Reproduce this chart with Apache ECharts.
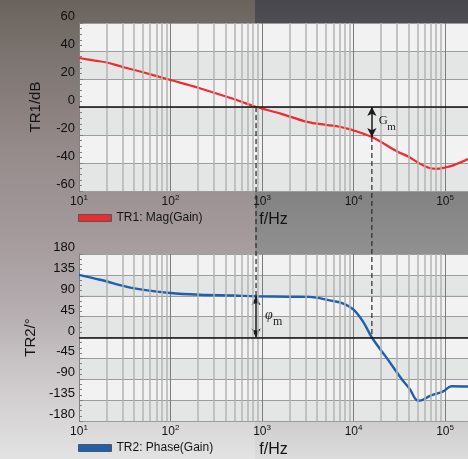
<!DOCTYPE html>
<html><head><meta charset="utf-8">
<script src="https://cdn.jsdelivr.net/npm/echarts@6/dist/echarts.min.js"></script>
<style>
html,body{margin:0;padding:0;width:468px;height:459px;overflow:hidden;}
#bgL{position:absolute;left:0;top:0;width:255px;height:459px;background:linear-gradient(to bottom,#6a635d 0px,#7d7571 60px,#958b8a 150px,#a3999b 230px,#b2aaad 300px,#cdc9cb 380px,#e3e3e3 459px);}
#bgR{position:absolute;left:255px;top:0;width:213px;height:459px;background:linear-gradient(to bottom,#47474d 0px,#58585d 60px,#78787a 150px,#8b8b8b 230px,#9b9b9b 300px,#bebebe 380px,#dcdcdc 459px);}
#chart{position:absolute;left:0;top:0;width:468px;height:459px;}
</style></head>
<body>
<div id="bgL"></div><div id="bgR"></div>
<div id="chart"></div>
<script>
// ---- data ----
const gainFreq = [10, 15, 20, 30, 50, 100, 200, 500, 860, 1000, 1600, 3100, 5200, 7000, 9000, 15850, 30000, 40000, 50000, 65000, 80000, 100000, 125000, 178000];
const gainDb   = [35.0, 33.1, 31.8, 28.6, 24.8, 19.3, 13.8, 5.5, 0, -1.2, -4.7, -10.6, -12.9, -14.1, -15.8, -21.5, -31.8, -35.5, -39.5, -43.2, -44.2, -43.2, -41.5, -37.2];
const phaseFreq = [10, 17, 39, 100, 209, 490, 860, 2000, 3300, 5500, 7500, 10000, 12800, 15850, 23000, 33700, 41400, 49000, 53300, 68500, 95500, 117500, 178000];
const phaseDeg  = [135, 124.5, 106.5, 95.8, 92, 90.5, 89, 88, 87.5, 80, 74, 60, 33, 0, -44, -90, -112, -135, -136, -126, -116, -105, -105.5];
const minorFreqs = [2,3,4,5,6,7,8,9].flatMap(m => [10,100,1000,10000,100000].map(d => m*d)).filter(f => f < 178000);
const gainTicks = {min:-60, max:60, interval:20};
const phaseTicks = {min:-180, max:180, interval:45};
const xMin = 10, xMax = 178000;
const seriesNames = ['TR1: Mag(Gain)', 'TR2: Phase(Gain)'];
// margins (read)
const fPM = 860, pmPhase = 89;        // phase margin location
const fGM = 15850, gmGain = -21.5;    // gain margin location

const FONT = '"Liberation Sans", Arial, sans-serif';
const TXT = '#141414';
const gainData = gainFreq.map((f,i)=>[f, gainDb[i]]);
const phaseData = phaseFreq.map((f,i)=>[f, phaseDeg[i]]);

function xAxisCfg(gi){
  return {
    gridIndex: gi, type:'log', logBase:10, min:xMin, max:xMax,
    name:'f/Hz', nameLocation:'middle', nameGap:21,
    nameTextStyle:{fontSize:16, color:TXT, fontFamily:FONT},
    axisLine:{show:false}, axisTick:{show:false},
    axisLabel:{
      margin:3, showMaxLabel:false, color:TXT,
      formatter: v => { const l = Math.log10(v); const e = Math.round(l); if (Math.abs(l-e) > 1e-6) return ''; return '{b|10}{e|' + e + '}'; },
      rich:{ b:{fontSize:12, fontFamily:FONT, color:TXT, lineHeight:16}, e:{fontSize:8, fontFamily:FONT, color:TXT, verticalAlign:'top', lineHeight:9} }
    },
    splitLine:{show:true, lineStyle:{color:'#7c7c7c', width:1}}
  };
}
function yAxisCfg(gi, t, name, minorSplit){
  return {
    gridIndex: gi, type:'value', min:t.min, max:t.max, interval:t.interval,
    name:name, nameLocation:'middle', nameGap:36,
    nameTextStyle:{fontSize:15, color:TXT, fontFamily:FONT},
    axisLine:{show:true, lineStyle:{color:'#808080'}},
    axisTick:{show:true, inside:true, length:4, lineStyle:{color:'#808080'}},
    minorTick:{show:true, splitNumber:minorSplit, length:3, lineStyle:{color:'#808080'}},
    axisLabel:{fontSize:13, color:'#0e0e0e', margin:4, verticalAlign:'bottom', fontFamily:FONT},
    splitLine:{show:true, lineStyle:{color:'#9c9c9c', width:1}},
    splitArea:{show:true, areaStyle:{color:['#e4e5e5','#f2f2f2']}}
  };
}
function gridDummy(gi, data){
  return {
    type:'line', xAxisIndex:gi, yAxisIndex:gi, data:data, z:1, silent:true,
    showSymbol:false, lineStyle:{opacity:0}, tooltip:{show:false},
    markLine:{
      silent:true, symbol:'none', animation:false, label:{show:false},
      data: minorFreqs.map(f => ({xAxis:f, lineStyle:{color:'#b3b3b3', width:1.5, type:'solid'}}))
        .concat([{yAxis:0, lineStyle:{color:'#111', width:1.6, type:'solid'}}])
    }
  };
}

const option = {
  animation:false,
  textStyle:{fontFamily:FONT},
  backgroundColor:'transparent',
  grid:[
    {left:79, right:0, top:23, height:168},
    {left:79, right:0, top:254, height:169}
  ],
  xAxis:[xAxisCfg(0), xAxisCfg(1)],
  yAxis:[yAxisCfg(0, gainTicks, 'TR1/dB', 5), yAxisCfg(1, phaseTicks, 'TR2/°', 4)],
  legend:[
    {left:78, top:212, padding:0, itemWidth:33, itemHeight:7, data:[{name:seriesNames[0], icon:'rect'}],
     textStyle:{fontSize:12, color:TXT, fontFamily:FONT}, itemStyle:{borderColor:'#555', borderWidth:1}},
    {left:78, top:442, padding:0, itemWidth:33, itemHeight:7, data:[{name:seriesNames[1], icon:'rect'}],
     textStyle:{fontSize:12, color:TXT, fontFamily:FONT}, itemStyle:{borderColor:'#555', borderWidth:1}}
  ],
  series:[
    {name:seriesNames[0], type:'line', xAxisIndex:0, yAxisIndex:0, data:gainData, smooth:0.35, showSymbol:false, z:3,
     color:'#ee2b2e', lineStyle:{color:'#ee2b2e', width:2.2},
     markLine:{silent:true, symbol:['arrow','arrow'], symbolSize:[7,9], label:{show:false},
       data:[[{coord:[fGM,0]},{coord:[fGM,gmGain]}]], lineStyle:{color:'#1a1a1a', width:1.5, type:'solid'}}},
    {name:seriesNames[1], type:'line', xAxisIndex:1, yAxisIndex:1, data:phaseData, smooth:0.35, showSymbol:false, z:3,
     color:'#1f5fac', lineStyle:{color:'#1f5fac', width:2.4},
     markLine:{silent:true, symbol:['arrow','arrow'], symbolSize:[7,9], label:{show:false},
       data:[[{coord:[fPM,pmPhase]},{coord:[fPM,0]}]], lineStyle:{color:'#1a1a1a', width:1.5, type:'solid'}}},
    gridDummy(0, gainData),
    gridDummy(1, phaseData)
  ]
};

const chart = echarts.init(document.getElementById('chart'));
chart.setOption(option);

const p1 = chart.convertToPixel({seriesIndex:0}, [fPM, 0]);
const p2 = chart.convertToPixel({seriesIndex:1}, [fPM, pmPhase]);
const q1 = chart.convertToPixel({seriesIndex:0}, [fGM, gmGain]);
const q2 = chart.convertToPixel({seriesIndex:1}, [fGM, 0]);
const q0 = chart.convertToPixel({seriesIndex:0}, [fGM, 0]);
const p3 = chart.convertToPixel({seriesIndex:1}, [fPM, 0]);
const dash = {stroke:'#2a2a2a', lineWidth:1.2, lineDash:[5,3]};
const gmMid = (q0[1] + q1[1]) / 2, pmMid = (p2[1] + p3[1]) / 2;
chart.setOption({
  graphic:[
    {type:'line', silent:true, z:20, shape:{x1:p1[0], y1:p1[1], x2:p2[0], y2:p2[1]}, style:dash},
    {type:'line', silent:true, z:20, shape:{x1:q1[0], y1:q1[1], x2:q2[0], y2:q2[1]}, style:dash},
    {type:'text', silent:true, z:20, x:q0[0]+7, y:gmMid-1, style:{text:'G', font:'12.5px "Liberation Serif", serif', fill:'#222', verticalAlign:'middle'}},
    {type:'text', silent:true, z:20, x:q0[0]+15.5, y:gmMid+5, style:{text:'m', font:'11px "Liberation Serif", serif', fill:'#222', verticalAlign:'middle'}},
    {type:'text', silent:true, z:20, x:p3[0]+9, y:pmMid-2, style:{text:'φ', font:'italic 14px "Liberation Serif", serif', fill:'#222', verticalAlign:'middle'}},
    {type:'text', silent:true, z:20, x:p3[0]+17, y:pmMid+4.5, style:{text:'m', font:'12px "Liberation Serif", serif', fill:'#222', verticalAlign:'middle'}}
  ]
});
</script>
</body></html>
